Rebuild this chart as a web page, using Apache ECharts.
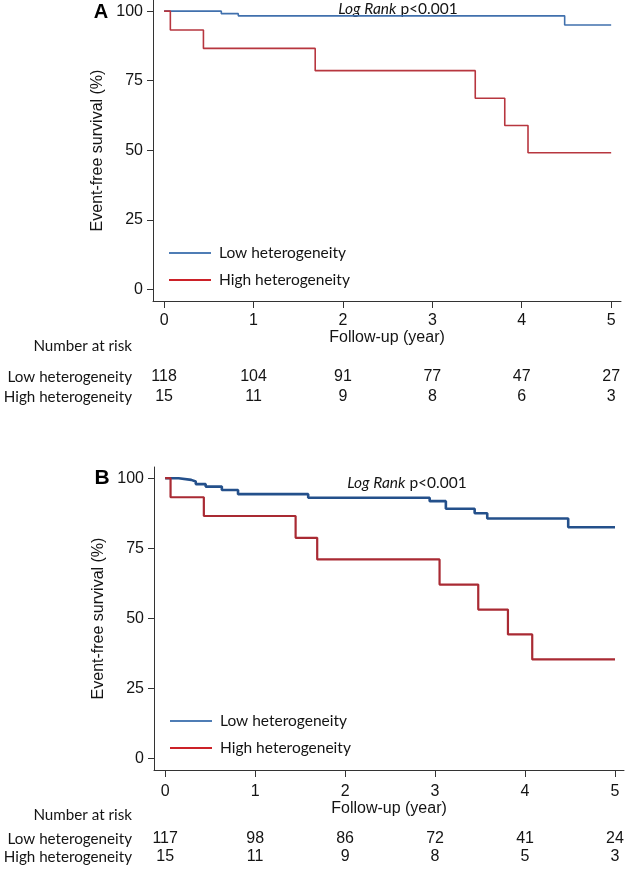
<!DOCTYPE html>
<html>
<head>
<meta charset="utf-8">
<script src="https://cdn.jsdelivr.net/npm/echarts@6/dist/echarts.min.js"></script>
<style>
  html, body { margin: 0; padding: 0; background: #fff; }
  #chart { width: 627px; height: 876px; }
</style>
</head>
<body>
<div id="chart"></div>
<script>
// follow-up years shown on the x axis
const years = [0, 1, 2, 3, 4, 5]
const yTicks = [0, 25, 50, 75, 100]

// panel A, Kaplan-Meier steps [year, survival %]
const lowA = [[0, 100], [0.64, 99.1], [0.83, 98.3], [4.48, 95.0], [5, 95.0]]
const highA = [[0, 100], [0.07, 93.2], [0.44, 86.6], [1.69, 78.6], [3.48, 68.7], [3.81, 58.9], [4.07, 49.1], [5, 49.1]]
const riskLowA = [118, 104, 91, 77, 47, 27]
const riskHighA = [15, 11, 9, 8, 6, 3]

// panel B
const lowB = [[0, 100], [0.15, 99.4], [0.29, 98.8], [0.34, 97.9], [0.45, 97.0], [0.63, 95.8], [0.81, 94.3],
  [1.59, 93.0], [2.94, 91.8], [3.12, 89.1], [3.44, 87.5], [3.58, 85.6], [4.48, 82.5], [5, 82.5]]
const highB = [[0, 100], [0.06, 93.2], [0.43, 86.5], [1.45, 78.7], [1.69, 71.0], [3.05, 62.0], [3.48, 53.1], [3.81, 44.2], [4.08, 35.3], [5, 35.3]]
const riskLowB = [117, 98, 86, 72, 41, 24]
const riskHighB = [15, 11, 9, 8, 5, 3]

const arial = 'Liberation Sans'
const calibri = 'Lato'
const ink = '#141414'

const xRangeA = [-0.124, 5.11]
const xRangeB = [-0.124, 5.10]

function mainX(grid, range, margin) {
  return {
    type: 'value', gridIndex: grid, min: range[0], max: range[1],
    name: 'Follow-up (year)', nameLocation: 'middle', nameGap: 29,
    nameTextStyle: { fontFamily: arial, fontSize: 16, color: ink, lineHeight: 16 },
    axisLine: { onZero: false, lineStyle: { color: '#333', width: 1 } },
    axisTick: { customValues: years, length: 7, lineStyle: { color: '#333' } },
    axisLabel: { customValues: years, margin, fontFamily: arial, fontSize: 16, lineHeight: 16, color: ink },
    splitLine: { show: false }
  }
}

function riskX(grid, range, offset, values) {
  return {
    type: 'value', gridIndex: grid, min: range[0], max: range[1], position: 'bottom', offset,
    axisLine: { show: false, onZero: false }, axisTick: { show: false }, splitLine: { show: false },
    axisLabel: {
      customValues: years, margin: 0, fontFamily: arial, fontSize: 16, lineHeight: 16, color: ink,
      formatter: (v) => String(values[years.indexOf(Math.round(v))])
    }
  }
}

function mainY(grid) {
  return {
    type: 'value', gridIndex: grid, min: -4.2, max: 104,
    name: 'Event-free survival (%)', nameLocation: 'middle', nameGap: 43,
    nameTextStyle: { fontFamily: arial, fontSize: 16, color: ink },
    axisLine: { show: true, onZero: false, lineStyle: { color: '#333', width: 1 } },
    axisTick: { show: true, customValues: yTicks, length: 6, lineStyle: { color: '#333' } },
    axisLabel: { customValues: yTicks, margin: 10, fontFamily: arial, fontSize: 16, color: ink },
    splitLine: { show: false }
  }
}

function legendFor(left, top) {
  return {
    left, top, orient: 'vertical', selectedMode: false,
    icon: 'rect', itemWidth: 42, itemHeight: 2, itemGap: 11,
    textStyle: { fontFamily: calibri, fontSize: 15.5, lineHeight: 16, color: ink, padding: [0, 0, 0, 3] },
    data: [
      { name: 'Low heterogeneity', itemStyle: { color: '#4f7db5' } },
      { name: 'High heterogeneity', itemStyle: { color: '#cc2128' } }
    ]
  }
}

function label(text, x, y, opts) {
  return {
    type: 'text', x, y,
    style: Object.assign({ text, fill: ink, font: '15.2px ' + calibri, align: 'right', verticalAlign: 'middle' }, opts)
  }
}

function logRank(x, y) {
  return {
    type: 'text', x, y,
    style: {
      text: '{i|Log Rank} p<0.001', fill: ink, font: '15.5px ' + calibri, align: 'center', verticalAlign: 'middle',
      rich: { i: { fontStyle: 'italic', fontFamily: calibri, fontSize: 15.5, fill: ink } }
    }
  }
}

function step(name, data, xi, yi, color, width) {
  return {
    name, type: 'line', step: 'end', data, xAxisIndex: xi, yAxisIndex: yi,
    showSymbol: false, symbol: 'none', lineStyle: { color, width }, itemStyle: { color },
    emphasis: { disabled: true }
  }
}

const option = {
  animation: false,
  backgroundColor: '#fff',
  grid: [
    { left: 153, right: 6, top: 0, height: 301 },
    { left: 154, right: 3, top: 467, height: 303 }
  ],
  xAxis: [
    mainX(0, xRangeA, 12),
    mainX(1, xRangeB, 14),
    riskX(0, xRangeA, 68, riskLowA),
    riskX(0, xRangeA, 88, riskHighA),
    riskX(1, xRangeB, 61, riskLowB),
    riskX(1, xRangeB, 79, riskHighB)
  ],
  yAxis: [mainY(0), mainY(1)],
  legend: [legendFor(164, 240), legendFor(165, 708)],
  series: [
    step('Low heterogeneity', lowA, 0, 0, '#4070ad', 1.6),
    step('High heterogeneity', highA, 0, 0, '#b7363f', 1.6),
    step('Low heterogeneity', lowB, 1, 1, '#24508b', 2.6),
    step('High heterogeneity', highB, 1, 1, '#a92a33', 2.2)
  ],
  graphic: [
    { type: 'text', x: 101, y: 12, style: { text: 'A', fill: '#000', font: 'bold 20px ' + arial, align: 'center', verticalAlign: 'middle' } },
    { type: 'text', x: 102, y: 478, style: { text: 'B', fill: '#000', font: 'bold 21px ' + arial, align: 'center', verticalAlign: 'middle' } },
    logRank(398, 8.5),
    logRank(407, 483),
    label('Number at risk', 132, 346),
    label('Low heterogeneity', 132, 377),
    label('High heterogeneity', 132, 397),
    label('Number at risk', 132, 815),
    label('Low heterogeneity', 132, 839),
    label('High heterogeneity', 132, 857)
  ]
}

const chart = echarts.init(document.getElementById('chart'))
chart.setOption(option)
</script>
</body>
</html>
